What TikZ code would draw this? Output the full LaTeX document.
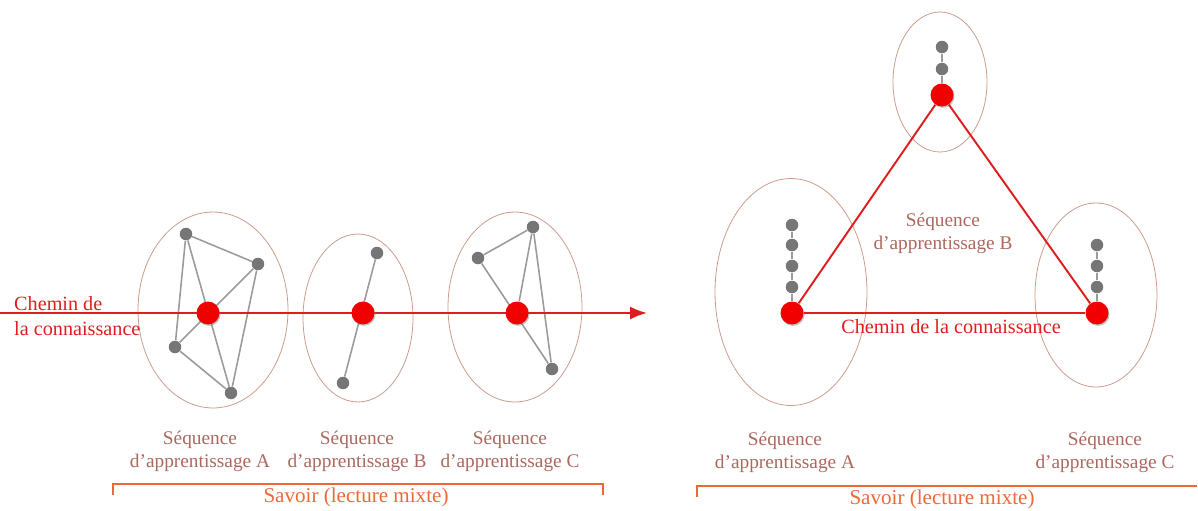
\documentclass[tikz,border=0pt]{standalone}
\usepackage{fontspec}
\setmainfont{Liberation Serif}
\usetikzlibrary{arrows.meta,shapes.geometric,shadows}
\definecolor{pathred}{RGB}{222,30,30}
\definecolor{dotred}{RGB}{240,0,0}
\definecolor{dotgrey}{RGB}{118,118,118}
\definecolor{linegrey}{RGB}{155,155,155}
\definecolor{rimbrown}{RGB}{205,155,140}
\definecolor{textbrown}{RGB}{172,104,94}
\definecolor{savoirorange}{RGB}{236,104,56}
\tikzset{
  knowpath/.style={draw=pathred, line width=1.1pt},
  link/.style={draw=linegrey, line width=0.9pt},
  seqrim/.style={draw=rimbrown, ellipse, inner sep=0pt, line width=0.45pt},
  keydot/.style={
    circle, fill=dotred, minimum size=0.46cm, inner sep=0pt,
    drop shadow={shadow xshift=0.6pt, shadow yshift=-0.8pt, opacity=0.45}
  },
  subdot/.style={circle, fill=dotgrey, minimum size=0.25cm, inner sep=0pt},
  seqlabel/.style={text=textbrown, align=center, font=\fontsize{11}{13.2}\selectfont},
  redlabel/.style={text=pathred, font=\fontsize{11.5}{13.8}\selectfont},
  brace/.style={draw=savoirorange, line width=0.8pt},
  savoirlabel/.style={text=savoirorange, font=\fontsize{12}{14}\selectfont}
}

\begin{document}
\begin{tikzpicture}[x=0.02cm,y=-0.02cm]
  \useasboundingbox (0,0) rectangle (1198,511);

  \node[seqrim,minimum width=3cm,minimum height=3.92cm] (seqA) at (213,310) {};
  \node[seqrim,minimum width=2.2cm,minimum height=3.36cm] (seqB) at (358,318) {};
  \node[seqrim,minimum width=2.68cm,minimum height=3.8cm] (seqC) at (515,307) {};

  \node[subdot] (a1) at (186,234) {};
  \node[subdot] (a2) at (258,264) {};
  \node[subdot] (a3) at (175,347) {};
  \node[subdot] (a4) at (231,393) {};
  \node[subdot] (b1) at (377,253) {};
  \node[subdot] (b2) at (343,383) {};
  \node[subdot] (c1) at (533,227) {};
  \node[subdot] (c2) at (478,258) {};
  \node[subdot] (c3) at (552,369) {};

  \foreach \a/\b in {a1/a2,a1/a3,a1/a4,a2/a3,a2/a4,a3/a4,b1/b2,c1/c2,c2/c3,c1/c3}
    \draw[link] (\a) -- (\b);

  \coordinate (start) at (0,313);
  \coordinate (goal) at (647,313);
  \draw[knowpath,-{Latex[length=3.4mm,width=2.6mm]}] (start) -- (goal);

  \node[keydot] (kA) at (208,313) {};
  \node[keydot] (kB) at (363,313) {};
  \node[keydot] (kC) at (517,313) {};
  \draw[link] (c1) -- (kC);

  \node[redlabel,anchor=west,align=left] (chemin) at (8,316) {Chemin de\\la connaissance};

  \node[seqlabel] (labA) at (200,451) {Séquence\\d’apprentissage A};
  \node[seqlabel] (labB) at (357,451) {Séquence\\d’apprentissage B};
  \node[seqlabel] (labC) at (510,451) {Séquence\\d’apprentissage C};

  \coordinate (bl) at (113,484);
  \coordinate (br) at (603,484);
  \draw[brace] ([yshift=-6]bl) -- (bl) -- (br) -- ([yshift=-6]br);
  \node[savoirlabel] (savoir) at (356,497) {Savoir (lecture mixte)};

  \node[seqrim,minimum width=1.88cm,minimum height=2.8cm] (triB) at (940,82) {};
  \node[seqrim,minimum width=3.04cm,minimum height=4.54cm] (triA) at (791,292) {};
  \node[seqrim,minimum width=2.44cm,minimum height=3.68cm] (triC) at (1096,295) {};

  \node[subdot] (tb1) at (942,47) {};
  \node[subdot] (tb2) at (942,69) {};
  \node[subdot] (ta1) at (792,225) {};
  \node[subdot] (ta2) at (792,245) {};
  \node[subdot] (ta3) at (792,266) {};
  \node[subdot] (ta4) at (792,287) {};
  \node[subdot] (tc1) at (1097,245) {};
  \node[subdot] (tc2) at (1097,266) {};
  \node[subdot] (tc3) at (1097,287) {};

  \node[keydot] (tB) at (942,95) {};
  \node[keydot] (tA) at (792,313) {};
  \node[keydot] (tC) at (1097,313) {};

  \foreach \a/\b in {tb1/tb2,tb2/tB,ta1/ta2,ta2/ta3,ta3/ta4,ta4/tA,tc1/tc2,tc2/tc3,tc3/tC}
    \draw[link] (\a) -- (\b);
  \foreach \a/\b in {tA/tB,tB/tC,tA/tC}
    \draw[knowpath] (\a) -- (\b);

  \node[redlabel] (chemin2) at (951,327) {Chemin de la connaissance};
  \node[seqlabel] (tlabB) at (943,233) {Séquence\\d’apprentissage B};
  \node[seqlabel] (tlabA) at (785,452) {Séquence\\d’apprentissage A};
  \node[seqlabel] (tlabC) at (1105,452) {Séquence\\d’apprentissage C};

  \coordinate (tbl) at (697,486);
  \coordinate (tbr) at (1197,486);
  \draw[brace] ([yshift=-6]tbl) -- (tbl) -- (tbr);
  \node[savoirlabel] (tsavoir) at (942,499) {Savoir (lecture mixte)};
\end{tikzpicture}
\end{document}
